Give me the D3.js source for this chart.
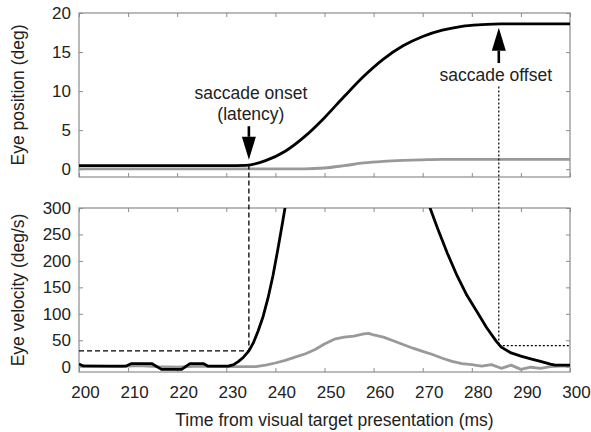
<!DOCTYPE html>
<head>
  <meta charset="utf-8">
  <title>Saccade</title>
  <style>
      body { margin: 0; background: #fff; }
      text { font-family: "Liberation Sans", Arial, Helvetica, sans-serif; fill: #222; }
  </style>
  <script src="https://d3js.org/d3.v7.js"></script>
</head>
<body>
<div id="chart"></div>
<script>
    // position traces (deg)
    const posTime = [200, 230, 234, 238, 242, 246, 250, 254, 258, 262, 266, 270, 274, 278, 282, 286, 290, 300];
    const posBlack = [0.45, 0.45, 0.5, 1.1, 2.3, 4.2, 6.6, 9.3, 11.9, 14.1, 15.8, 17.0, 17.8, 18.3, 18.5, 18.6, 18.6, 18.6];
    const posGray = [0.05, 0.05, 0.05, 0.05, 0.05, 0.05, 0.15, 0.45, 0.8, 1.0, 1.12, 1.2, 1.25, 1.25, 1.25, 1.25, 1.25, 1.25];

    // velocity traces (deg/s)
    const velBlackTime = [200, 201, 209.5, 210.7, 214.8, 216.8, 220.9, 222.6, 225.3, 226.3, 230.4, 231.5, 232.5, 233.5,
        234.6, 235.5, 236.5, 237.5, 238.5, 239.5, 240.5, 241.5, 242.5, 244, 257, 270, 271.5, 273, 275, 277, 279, 281,
        283, 285, 286, 288, 290, 292, 294, 296, 297, 300];
    const velBlack = [5, 1, 1, 6, 6, -5, -5, 6, 6, 1, 1, 4, 10, 18,
        30, 45, 68, 95, 130, 172, 222, 275, 330, 420, 620, 360, 300, 262, 215, 172, 135, 105,
        74, 48, 37, 26, 20, 15, 10, 5, 3, 3];
    const velGrayTime = [200, 204, 208, 212, 216, 220, 224, 228, 232, 236, 238, 240, 242, 244, 246, 248, 250, 252, 254,
        256, 258, 259, 260, 262, 264, 266, 268, 270, 272, 274, 276, 278, 280, 282, 284, 286, 288, 290, 292, 294, 296, 298, 300];
    const velGray = [2, 1, 0, 2, 0, -1, 1, 0, 0, 0, 3, 7, 12, 18, 24, 32, 43, 52, 56,
        58, 62, 63, 60, 56, 49, 42, 35, 29, 23, 16, 10, 6, 4, 1, 4, -3, 3, -5, -1, -3, 0, 1, 1];

    const timeTicks = [200, 210, 220, 230, 240, 250, 260, 270, 280, 290, 300];
    const posTicks = [0, 5, 10, 15, 20];
    const velTicks = [0, 50, 100, 150, 200, 250, 300];

    // saccade onset / offset markers
    const onsetT = 234.6, onsetV = 30;
    const offsetT = 285.5, offsetV = 40;

    const W = 591, H = 432;
    const left = 79, right = 570;
    const top1 = 13, bot1 = 177, top2 = 208, bot2 = 372;
    const frameColor = "#8c8c8c";

    const svg = d3.select("#chart").append("svg")
        .attr("width", W).attr("height", H);

    const x = d3.scaleLinear().domain([200, 300]).range([left, right]);
    const yPos = d3.scaleLinear().domain([-1, 20]).range([bot1, top1]);
    const yVel = d3.scaleLinear().domain([-10, 300]).range([bot2, top2]);

    const defs = svg.append("defs");
    [["clip1", top1, bot1], ["clip2", top2, bot2]].forEach(([id, t, b]) => {
        defs.append("clipPath").attr("id", id).append("rect")
            .attr("x", left).attr("y", t).attr("width", right - left).attr("height", b - t);
    });

    function panel(y, yTicks, t, b, showX) {
        const g = svg.append("g");
        const style = sel => {
            sel.select(".domain").remove();
            sel.selectAll(".tick line").attr("stroke", frameColor).attr("stroke-width", 1);
            sel.selectAll(".tick text").style("font-size", "17px").attr("fill", "#222");
        };
        g.append("g").attr("transform", `translate(${left},0)`)
            .call(d3.axisLeft(y).tickValues(yTicks).tickSizeInner(-4).tickSizeOuter(0).tickPadding(8))
            .call(style);
        g.append("g").attr("transform", `translate(${right},0)`)
            .call(d3.axisRight(y).tickValues(yTicks).tickSizeInner(-4).tickSizeOuter(0).tickFormat(""))
            .call(style);
        g.append("g").attr("transform", `translate(0,${t})`)
            .call(d3.axisTop(x).tickValues(timeTicks).tickSizeInner(-4).tickSizeOuter(0).tickFormat(""))
            .call(style);
        const xb = g.append("g").attr("transform", `translate(0,${b})`)
            .call(d3.axisBottom(x).tickValues(timeTicks).tickSizeInner(-4).tickSizeOuter(0).tickPadding(14)
                .tickFormat(showX ? d3.format("d") : ""))
            .call(style);
        xb.selectAll(".tick text").attr("dx", 6);
        g.append("rect").attr("x", left).attr("y", t).attr("width", right - left).attr("height", b - t)
            .attr("fill", "none").attr("stroke", frameColor).attr("stroke-width", 1.2);
        return g;
    }

    panel(yPos, posTicks, top1, bot1, false);
    panel(yVel, velTicks, top2, bot2, true);

    const linePos = d3.line().x(d => x(d[0])).y(d => yPos(d[1])).curve(d3.curveMonotoneX);
    const lineVel = d3.line().x(d => x(d[0])).y(d => yVel(d[1]));

    const p = svg.append("g").attr("clip-path", "url(#clip1)");
    p.append("path").datum(d3.zip(posTime, posGray)).attr("d", linePos)
        .attr("fill", "none").attr("stroke", "#999").attr("stroke-width", 2.8);
    p.append("path").datum(d3.zip(posTime, posBlack)).attr("d", linePos)
        .attr("fill", "none").attr("stroke", "#000").attr("stroke-width", 2.8);

    const v = svg.append("g").attr("clip-path", "url(#clip2)");
    v.append("path").datum(d3.zip(velGrayTime, velGray)).attr("d", lineVel)
        .attr("fill", "none").attr("stroke", "#999").attr("stroke-width", 2.8).attr("stroke-linejoin", "round");
    v.append("path").datum(d3.zip(velBlackTime, velBlack)).attr("d", lineVel)
        .attr("fill", "none").attr("stroke", "#000").attr("stroke-width", 2.8).attr("stroke-linejoin", "round");

    // onset markers (dashed)
    const onsetTop = yPos(d3.scaleLinear().domain(posTime).range(posBlack)(onsetT));
    svg.append("line")
        .attr("x1", x(onsetT)).attr("x2", x(onsetT))
        .attr("y1", onsetTop).attr("y2", yVel(onsetV))
        .attr("stroke", "#000").attr("stroke-width", 1.3).attr("stroke-dasharray", "5,3");
    svg.append("line")
        .attr("x1", x(200)).attr("x2", x(onsetT))
        .attr("y1", yVel(onsetV)).attr("y2", yVel(onsetV))
        .attr("stroke", "#000").attr("stroke-width", 1.3).attr("stroke-dasharray", "5,3");

    // offset markers (dotted)
    svg.append("line")
        .attr("x1", x(offsetT)).attr("x2", x(offsetT))
        .attr("y1", yPos(10.6)).attr("y2", yVel(offsetV))
        .attr("stroke", "#000").attr("stroke-width", 1.2).attr("stroke-dasharray", "2,2");
    svg.append("line")
        .attr("x1", x(offsetT)).attr("x2", x(300))
        .attr("y1", yVel(offsetV)).attr("y2", yVel(offsetV))
        .attr("stroke", "#000").attr("stroke-width", 1.2).attr("stroke-dasharray", "2,2");

    // arrows
    function arrow(t, from, to) {
        const xa = x(t), y0 = yPos(from), y1 = yPos(to);
        const dir = y1 > y0 ? 1 : -1;
        const headBase = y1 - dir * 23;
        svg.append("line").attr("x1", xa).attr("x2", xa).attr("y1", y0).attr("y2", headBase)
            .attr("stroke", "#000").attr("stroke-width", 2.6);
        svg.append("path")
            .attr("d", `M${xa},${y1}L${xa - 7},${headBase}L${xa + 7},${headBase}Z`)
            .attr("fill", "#000");
    }
    arrow(onsetT, 5.5, 1.2);
    arrow(offsetT, 13.6, 18.1);

    const ann = svg.append("g").style("font-size", "17.5px").attr("text-anchor", "middle");
    ann.append("text").attr("x", x(onsetT) + 2).attr("y", yPos(9.0)).text("saccade onset");
    ann.append("text").attr("x", x(onsetT) + 2).attr("y", yPos(6.3)).text("(latency)");
    ann.append("text").attr("x", x(offsetT) - 3).attr("y", yPos(11.3)).text("saccade offset");

    // axis titles
    svg.append("text").attr("text-anchor", "middle").style("font-size", "17.5px")
        .attr("transform", `translate(24,${(top1 + bot1) / 2}) rotate(-90)`).text("Eye position (deg)");
    svg.append("text").attr("text-anchor", "middle").style("font-size", "17.5px")
        .attr("transform", `translate(24,${(top2 + bot2) / 2}) rotate(-90)`).text("Eye velocity (deg/s)");
    svg.append("text").attr("text-anchor", "middle").style("font-size", "17.5px")
        .attr("x", (left + right) / 2 + 10).attr("y", 426)
        .text("Time from visual target presentation (ms)");
</script>
</body>
